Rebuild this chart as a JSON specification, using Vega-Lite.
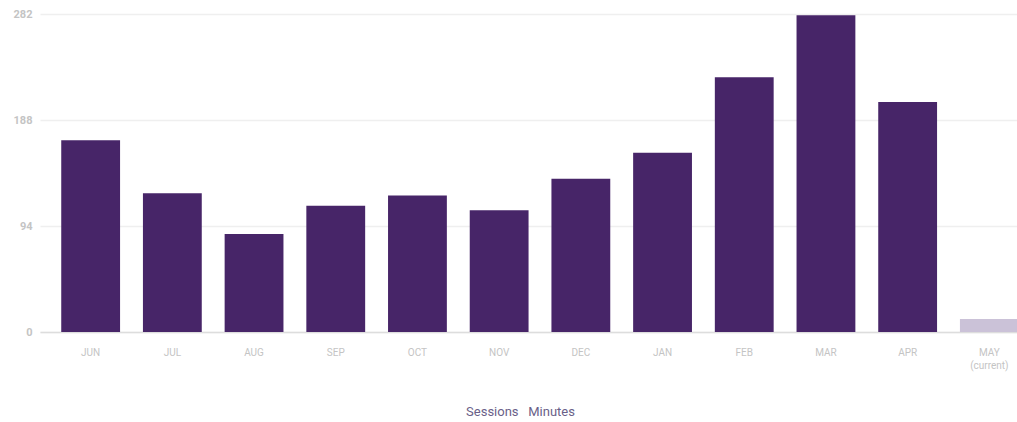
{
  "$schema": "https://vega.github.io/schema/vega-lite/v6.json",
  "autosize": "none",
  "width": 1000,
  "height": 318,
  "padding": {"left": 40, "top": 14, "right": 0, "bottom": 90},
  "background": "white",
  "config": {"view": {"stroke": null}},
  "data": {"values": [
    {"month": "JUN", "value": 170, "status": "past"},
    {"month": "JUL", "value": 123, "status": "past"},
    {"month": "AUG", "value": 87, "status": "past"},
    {"month": "SEP", "value": 112, "status": "past"},
    {"month": "OCT", "value": 121, "status": "past"},
    {"month": "NOV", "value": 108, "status": "past"},
    {"month": "DEC", "value": 136, "status": "past"},
    {"month": "JAN", "value": 159, "status": "past"},
    {"month": "FEB", "value": 226, "status": "past"},
    {"month": "MAR", "value": 281, "status": "past"},
    {"month": "APR", "value": 204, "status": "past"},
    {"month": "MAY", "value": 11.5, "status": "current"}
  ]},
  "mark": {"type": "bar"},
  "encoding": {
    "x": {
      "field": "month", "type": "nominal", "sort": null,
      "scale": {"paddingInner": 0.28, "paddingOuter": 0.26},
      "axis": {
        "title": "Sessions\u00a0\u00a0\u00a0Minutes",
        "titleFont": "Roboto, sans-serif",
        "titleFontSize": 13, "titleFontWeight": "normal", "titleColor": "#6a5f88",
        "titlePadding": 35, "titleX": 480,
        "labelAngle": 0, "labelColor": "#c4c4c4", "labelFontSize": 10,
        "labelFont": "Roboto, sans-serif",
        "labelPadding": 15, "labelLineHeight": 13,
        "labelExpr": "datum.value == 'MAY' ? ['MAY', '(current)'] : datum.value",
        "ticks": false, "domain": true, "domainColor": "#dddddd", "domainWidth": 1.5
      }
    },
    "y": {
      "field": "value", "type": "quantitative",
      "scale": {"domain": [0, 282], "nice": false},
      "axis": {
        "title": null, "values": [0, 94, 188, 282],
        "labelColor": "#c4c4c4", "labelFontSize": 11, "labelFontWeight": "bold",
        "labelFont": "Roboto, sans-serif",
        "labelPadding": 8, "ticks": false, "domain": false,
        "grid": true, "gridColor": "#efefef", "gridWidth": 1.5
      }
    },
    "color": {
      "field": "status", "type": "nominal",
      "scale": {"domain": ["past", "current"], "range": ["#472568", "#cbc2d8"]},
      "legend": null
    }
  }
}
